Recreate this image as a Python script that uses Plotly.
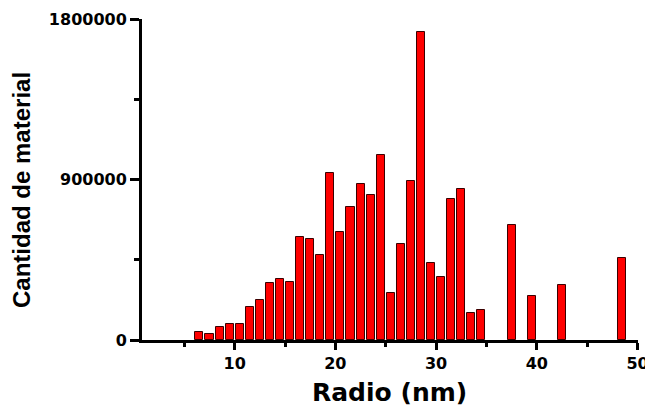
import plotly.graph_objects as go

radio_nm = [6.5, 7.5, 8.5, 9.5, 10.5, 11.5, 12.5, 13.5, 14.5, 15.5,
            16.5, 17.5, 18.5, 19.5, 20.5, 21.5, 22.5, 23.5, 24.5, 25.5,
            26.5, 27.5, 28.5, 29.5, 30.5, 31.5, 32.5, 33.5, 34.5,
            37.5, 39.5, 42.5, 48.5]
cantidad = [46000, 34000, 75000, 90000, 90000, 185000, 224000, 320000, 344000, 323000,
            577000, 568000, 478000, 934000, 607000, 748000, 873000, 813000, 1037000, 265000,
            540000, 893000, 1729000, 433000, 351000, 789000, 848000, 153000, 168000,
            646000, 247000, 308000, 458000]
x_ticks = [10, 20, 30, 40, 50]
y_ticks = [0, 900000, 1800000]

W, H = 645, 409
ml, mr, mt, mb = 142, 7, 19, 69
pw = W - ml - mr
ph = H - mt - mb

fig = go.Figure(go.Bar(
    x=radio_nm, y=cantidad, width=0.8,
    marker=dict(color="#ff0000", line=dict(color="#3a0000", width=1)),
))

tickfont = dict(family="DejaVu Sans", size=16, color="black", weight="bold")
fig.update_layout(
    width=W, height=H,
    margin=dict(l=ml, r=mr, t=mt, b=mb, pad=0, autoexpand=False),
    paper_bgcolor="white", plot_bgcolor="white",
    showlegend=False,
    bargap=0,
    xaxis=dict(range=[0.8, 50.05], tickvals=x_ticks, ticktext=[str(v) for v in x_ticks],
               showgrid=False, zeroline=False, showline=True, linecolor="black", linewidth=3,
               ticks="outside", ticklen=7, tickwidth=3, tickcolor="black", automargin=False,
               tickfont=tickfont, ticklabelstandoff=0, ticklabeloverflow="allow",
               minor=dict(tickvals=[5, 15, 25, 35, 45], ticks="outside", ticklen=4,
                          tickwidth=3, tickcolor="black", showgrid=False)),
    yaxis=dict(range=[0, 1800000], tickvals=y_ticks, ticktext=[str(v) for v in y_ticks],
               showgrid=False, zeroline=False, showline=True, linecolor="black", linewidth=3,
               ticks="outside", ticklen=9, tickwidth=3, tickcolor="black", automargin=False,
               tickfont=tickfont, ticklabelstandoff=0, ticklabeloverflow="allow",
               minor=dict(tickvals=[450000, 1350000], ticks="outside", ticklen=5,
                          tickwidth=3, tickcolor="black", showgrid=False)),
    annotations=[
        dict(text="Radio (nm)", xref="paper", yref="paper",
             x=(389 - ml) / pw, y=(340 - 392) / ph, xanchor="center", yanchor="middle",
             showarrow=False,
             font=dict(family="DejaVu Sans", size=25, color="black", weight="bold")),
        dict(text="Cantidad de material", xref="paper", yref="paper",
             x=(22 - ml) / pw, y=(340 - 190) / ph, xanchor="center", yanchor="middle",
             textangle=-90, showarrow=False,
             font=dict(family="Liberation Sans", size=24, color="black", weight="bold")),
    ],
)

fig.write_html("out.html", config={"displayModeBar": False},
               post_script="document.body.style.margin='0';document.body.style.overflow='hidden';")
